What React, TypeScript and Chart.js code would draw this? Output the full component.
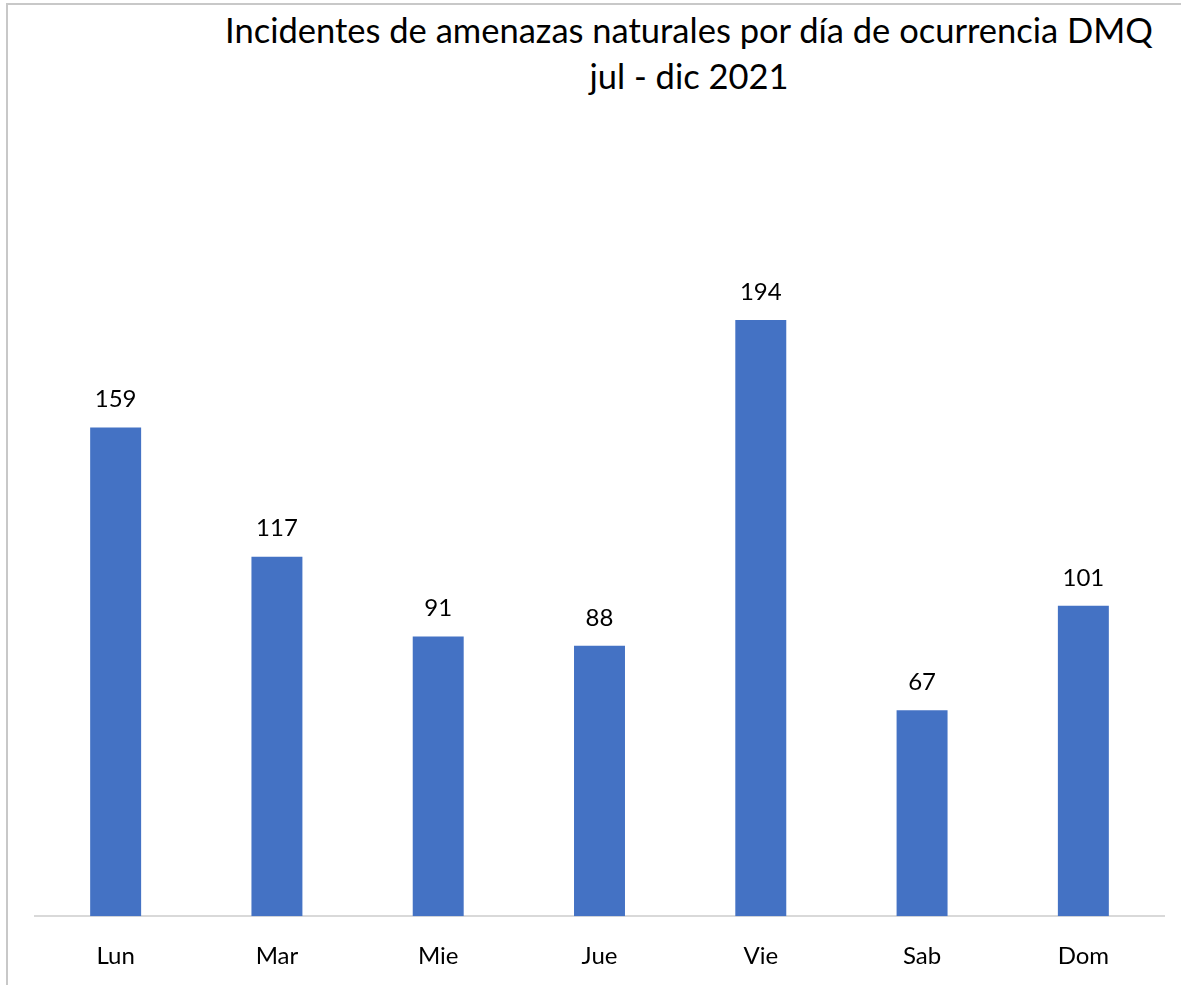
import React, { useEffect, useRef } from "react";
import { Chart, registerables } from "chart.js";

Chart.register(...registerables);

const categories = ["Lun", "Mar", "Mie", "Jue", "Vie", "Sab", "Dom"];
const incidents = [159, 117, 91, 88, 194, 67, 101];
const titleLines = ["Incidentes de amenazas naturales por día de ocurrencia DMQ", "jul - dic 2021"];

const FONT = "Lato, 'Open Sans', sans-serif";

const valueLabels = {
  id: "valueLabels",
  afterDatasetsDraw(chart: any) {
    const ctx = chart.ctx;
    const meta = chart.getDatasetMeta(0);
    const data = chart.data.datasets[0].data as number[];
    ctx.save();
    ctx.fillStyle = "#000";
    ctx.font = `24px ${FONT}`;
    ctx.textAlign = "center";
    ctx.textBaseline = "bottom";
    meta.data.forEach((bar: any, i: number) => {
      ctx.fillText(String(data[i]), bar.x, bar.y - 16);
    });
    ctx.restore();
  },
};

export default function App() {
  const ref = useRef<HTMLCanvasElement>(null);
  useEffect(() => {
    if (!ref.current) return;
    const chart = new Chart(ref.current, {
      type: "bar",
      data: {
        labels: categories,
        datasets: [
          {
            data: incidents,
            backgroundColor: "#4472c4",
            barPercentage: 0.316,
            categoryPercentage: 1,
          },
        ],
      },
      options: {
        animation: false,
        responsive: false,
        maintainAspectRatio: false,
        layout: { padding: { top: 148, left: 35, right: 17, bottom: 0 } },
        plugins: {
          legend: { display: false },
          title: { display: false },
          tooltip: { enabled: false },
        },
        scales: {
          x: {
            grid: { display: false, drawTicks: false },
            border: { display: true, color: "#d9d9d9", width: 2 },
            ticks: { color: "#000", font: { family: FONT, size: 24 }, padding: 26 },
          },
          y: { display: false, min: 0, max: 250 },
        },
      },
      plugins: [valueLabels],
    });
    return () => chart.destroy();
  }, []);
  return (
    <div style={{ position: "fixed", left: 0, top: 0, width: 1181, height: 985, background: "#fff", overflow: "hidden" }}>
      <div
        style={{
          position: "absolute",
          left: 6,
          top: 3,
          width: 1400,
          height: 1200,
          borderTop: "2px solid #c8c8c8",
          borderLeft: "2px solid #c8c8c8",
        }}
      />
      <div
        style={{
          position: "absolute",
          left: 389,
          top: 7,
          width: 600,
          textAlign: "center",
          fontFamily: FONT,
          fontSize: 34.5,
          lineHeight: "46px",
          color: "#000",
          whiteSpace: "nowrap",
          display: "flex",
          flexDirection: "column",
          alignItems: "center",
        }}
      >
        {titleLines.map((t) => (
          <div key={t}>{t}</div>
        ))}
      </div>
      <canvas ref={ref} width={1181} height={997} style={{ position: "absolute", left: 0, top: 0 }} />
    </div>
  );
}
